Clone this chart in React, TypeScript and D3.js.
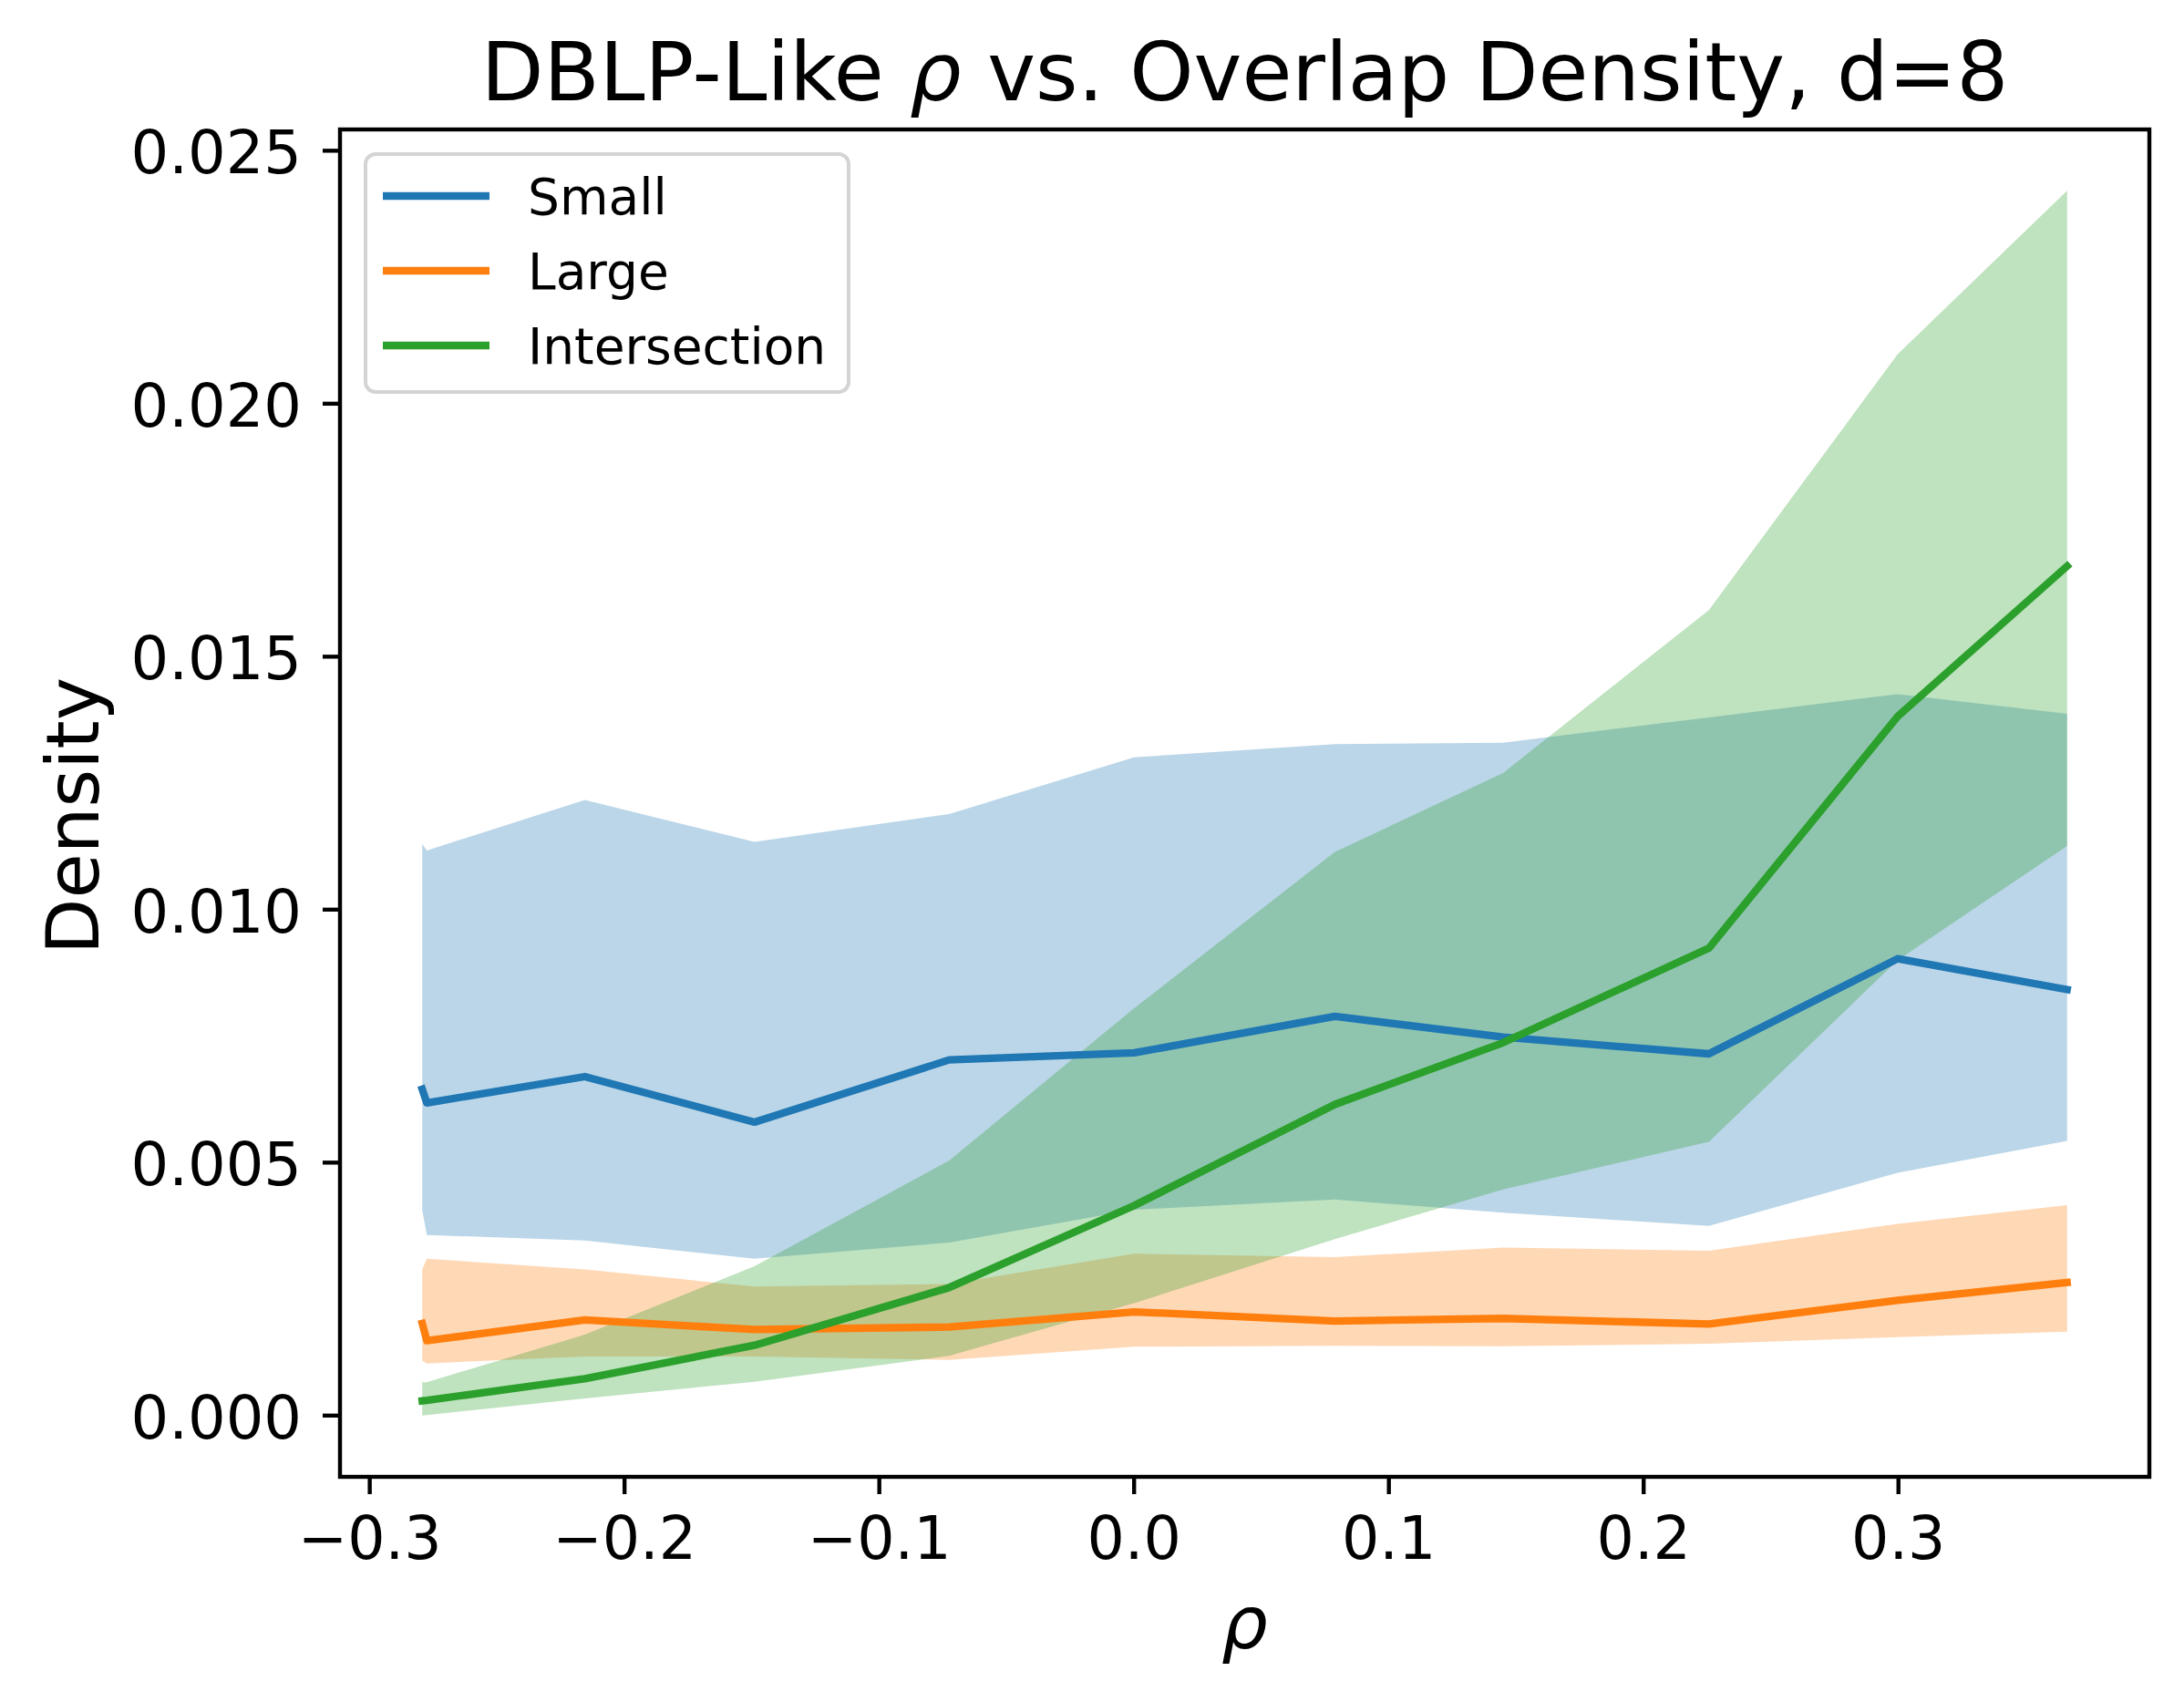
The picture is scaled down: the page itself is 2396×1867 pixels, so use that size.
import { useEffect, useRef } from 'react'
import * as d3 from 'd3'

// rho sample points (two runs landed almost on top of each other at the left end)
const rho = [-0.2794, -0.2776, -0.2156, -0.149, -0.0726, 0.0, 0.0788, 0.1448, 0.2256, 0.2997, 0.3662]

const smallMean = [0.00645, 0.00618, 0.0067, 0.0058, 0.00703, 0.00717, 0.00789, 0.00748, 0.00715, 0.00903, 0.00842]
const smallUpper = [0.0113, 0.01117, 0.01217, 0.01134, 0.01189, 0.01301, 0.01327, 0.0133, 0.0138, 0.01426, 0.01387]
const smallLower = [0.00406, 0.00357, 0.00346, 0.0031, 0.00342, 0.00407, 0.00427, 0.00401, 0.00375, 0.0048, 0.00543]

const largeMean = [0.00182, 0.00148, 0.00189, 0.0017, 0.00175, 0.00205, 0.00187, 0.00192, 0.00181, 0.00228, 0.00263]
const largeUpper = [0.00289, 0.0031, 0.00289, 0.00255, 0.0026, 0.0032, 0.00313, 0.00332, 0.00326, 0.00379, 0.00416]
const largeLower = [0.00109, 0.00103, 0.00117, 0.00117, 0.0011, 0.00136, 0.00138, 0.00137, 0.00142, 0.00155, 0.00166]

const interMean = [0.00029, 0.0003, 0.00073, 0.00139, 0.00253, 0.00415, 0.00615, 0.00737, 0.00924, 0.01382, 0.01679]
const interUpper = [0.00066, 0.00066, 0.0016, 0.00295, 0.00504, 0.00805, 0.01114, 0.0127, 0.01592, 0.02098, 0.02421]
const interLower = [0.0, 0.00001, 0.00034, 0.00067, 0.00118, 0.00222, 0.00349, 0.00447, 0.00541, 0.009, 0.01126]

const seriesNames = ['Small', 'Large', 'Intersection']
const seriesColors = ['#1f77b4', '#ff7f0e', '#2ca02c']

const xTicks = [-0.3, -0.2, -0.1, 0.0, 0.1, 0.2, 0.3]
const yTicks = [0.0, 0.005, 0.01, 0.015, 0.02, 0.025]

const W = 2396
const H = 1867
const FONT = '"DejaVu Sans", sans-serif'

export default function App() {
  const ref = useRef<SVGSVGElement | null>(null)

  useEffect(() => {
    if (!ref.current) return
    const svg = d3.select(ref.current)
    svg.selectAll('*').remove()

    const left = 373
    const right = 2358
    const top = 142
    const bottom = 1620

    // matplotlib-style 5% margins around the data
    const series = [
      { mean: smallMean, lo: smallLower, hi: smallUpper },
      { mean: largeMean, lo: largeLower, hi: largeUpper },
      { mean: interMean, lo: interLower, hi: interUpper }
    ]
    const xExt = d3.extent(rho) as [number, number]
    const allY = series.flatMap((s) => [...s.lo, ...s.hi, ...s.mean])
    const yExt = d3.extent(allY) as [number, number]
    const xPad = (xExt[1] - xExt[0]) * 0.05
    const yPad = (yExt[1] - yExt[0]) * 0.05

    const x = d3.scaleLinear().domain([xExt[0] - xPad, xExt[1] + xPad]).range([left, right])
    const y = d3.scaleLinear().domain([yExt[0] - yPad, yExt[1] + yPad]).range([bottom, top])

    svg.append('rect').attr('width', W).attr('height', H).attr('fill', '#ffffff')

    // Bands first, then the mean lines on top
    series.forEach((s, i) => {
      const area = d3
        .area<number>()
        .x((_, j) => x(rho[j]))
        .y0((_, j) => y(s.lo[j]))
        .y1((_, j) => y(s.hi[j]))
      svg
        .append('path')
        .attr('d', area(s.mean) as string)
        .attr('fill', seriesColors[i])
        .attr('fill-opacity', 0.3)
    })

    series.forEach((s, i) => {
      const line = d3
        .line<number>()
        .x((_, j) => x(rho[j]))
        .y((d) => y(d))
      svg
        .append('path')
        .attr('d', line(s.mean) as string)
        .attr('fill', 'none')
        .attr('stroke', seriesColors[i])
        .attr('stroke-width', 8.3)
        .attr('stroke-linecap', 'square')
        .attr('stroke-linejoin', 'round')
    })

    // Spines
    svg
      .append('rect')
      .attr('x', left)
      .attr('y', top)
      .attr('width', right - left)
      .attr('height', bottom - top)
      .attr('fill', 'none')
      .attr('stroke', '#000')
      .attr('stroke-width', 4.4)

    const tickLen = 19
    const fmtX = d3.format('.1f')
    const fmtY = d3.format('.3f')

    // X ticks
    xTicks.forEach((t) => {
      svg
        .append('line')
        .attr('x1', x(t))
        .attr('x2', x(t))
        .attr('y1', bottom)
        .attr('y2', bottom + tickLen)
        .attr('stroke', '#000')
        .attr('stroke-width', 4.4)
      svg
        .append('text')
        .attr('x', x(t))
        .attr('y', 1710)
        .attr('text-anchor', 'middle')
        .attr('font-family', FONT)
        .attr('font-size', 65)
        .attr('fill', '#000')
        .text(fmtX(t))
    })

    // Y ticks
    yTicks.forEach((t) => {
      svg
        .append('line')
        .attr('x1', left - tickLen)
        .attr('x2', left)
        .attr('y1', y(t))
        .attr('y2', y(t))
        .attr('stroke', '#000')
        .attr('stroke-width', 4.4)
      svg
        .append('text')
        .attr('x', 331)
        .attr('y', y(t) + 25)
        .attr('text-anchor', 'end')
        .attr('font-family', FONT)
        .attr('font-size', 65.5)
        .attr('fill', '#000')
        .text(fmtY(t))
    })

    // Title
    const title = svg
      .append('text')
      .attr('x', (left + right) / 2)
      .attr('y', 110)
      .attr('text-anchor', 'middle')
      .attr('font-family', FONT)
      .attr('font-size', 89.3)
      .attr('fill', '#000')
    title.append('tspan').text('DBLP-Like ')
    title.append('tspan').attr('font-style', 'italic').text('ρ')
    title.append('tspan').text(' vs. Overlap Density, d=8')

    // Axis labels
    svg
      .append('text')
      .attr('x', (left + right) / 2)
      .attr('y', 1808)
      .attr('text-anchor', 'middle')
      .attr('font-family', FONT)
      .attr('font-style', 'italic')
      .attr('font-size', 80)
      .attr('fill', '#000')
      .text('ρ')

    svg
      .append('text')
      .attr('transform', `translate(108,${(top + bottom) / 2 + 14}) rotate(-90)`)
      .attr('text-anchor', 'middle')
      .attr('font-family', FONT)
      .attr('font-size', 80)
      .attr('fill', '#000')
      .text('Density')

    // Legend
    const lg = svg.append('g')
    lg.append('rect')
      .attr('x', 401)
      .attr('y', 169)
      .attr('width', 530)
      .attr('height', 261)
      .attr('rx', 11)
      .attr('fill', '#ffffff')
      .attr('fill-opacity', 0.8)
      .attr('stroke', '#d4d4d4')
      .attr('stroke-width', 4)
    seriesNames.forEach((name, i) => {
      const ly = 215 + i * 82
      lg.append('line')
        .attr('x1', 420)
        .attr('x2', 537)
        .attr('y1', ly)
        .attr('y2', ly)
        .attr('stroke', seriesColors[i])
        .attr('stroke-width', 8.3)
      lg.append('text')
        .attr('x', 579)
        .attr('y', ly + 20)
        .attr('font-family', FONT)
        .attr('font-size', 55)
        .attr('fill', '#000')
        .text(name)
    })
  }, [])

  return (
    <div style={{ position: 'absolute', left: 0, top: 0, width: W, height: H }}>
      <svg ref={ref} width={W} height={H} viewBox={`0 0 ${W} ${H}`} style={{ display: 'block' }} />
    </div>
  )
}
